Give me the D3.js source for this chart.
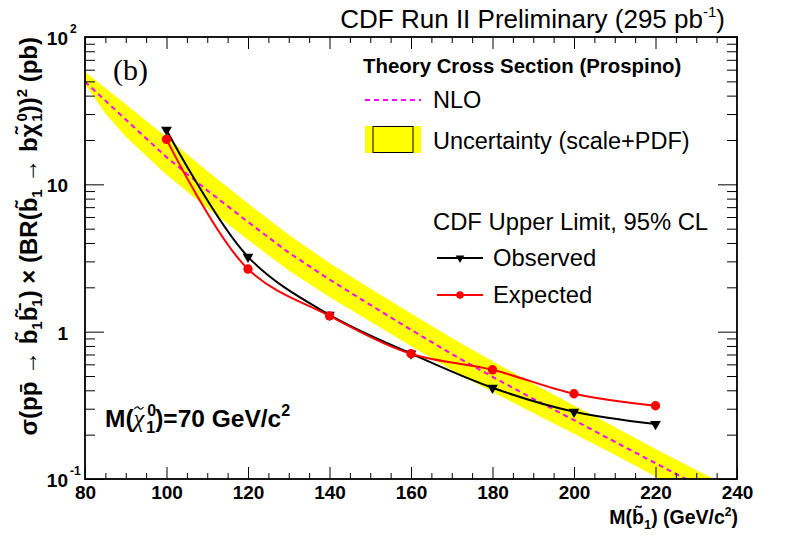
<!DOCTYPE html>
<html><head><meta charset="utf-8">
<script src="https://cdn.jsdelivr.net/npm/d3@7"></script>
<style>
body{margin:0;background:#fff}
svg{display:block}
text{font-family:"Liberation Sans",Arial,Helvetica,sans-serif;fill:#000}
</style>
</head><body><svg id="c" width="787" height="536"></svg>
<script>
// ---- data ----
const massPoints = [100,120,140,160,180,200,220];
const observed   = [23.4,3.22,1.30,0.71,0.416,0.286,0.236];
const expected   = [20.2,2.66,1.28,0.708,0.551,0.379,0.314];
const nloMass  = [80,85,90,100,110,120,130,140,150,160,170,180,190,200,210,220,230,240];
const nloXsec  = [49.7,37.0,27.5,15.3,9.1,5.56,3.44,2.26,1.52,1.03,0.705,0.494,0.350,0.251,0.179,0.128,0.0917,0.066];
const bandHigh = [58,45,35,20.9,12.3,7.4,4.55,2.92,1.96,1.33,0.905,0.63,0.443,0.316,0.225,0.160,0.115,0.083];
const bandLow  = [48,30.3,21.0,11.6,6.9,4.2,2.6,1.72,1.17,0.80,0.55,0.39,0.28,0.203,0.146,0.104,0.075,0.054];
const xTicks = [80,100,120,140,160,180,200,220,240];
const yTicks = [0.1,1,10,100];
const yTickBase = ["10","1","10","10"];
const yTickSup  = ["-1","","","2"];

// ---- layout ----
const svg = d3.select('#c');
const L=85,R=737,T=37,B=479;
const x = d3.scaleLinear().domain([80,240]).range([L,R]);
const y = d3.scaleLog().domain([0.1,100]).range([B,T]);

svg.append('defs').append('clipPath').attr('id','clip')
  .append('rect').attr('x',L).attr('y',T).attr('width',R-L).attr('height',B-T);

const plot = svg.append('g').attr('clip-path','url(#clip)');

// band
const band = nloMass.map((m,i)=>({m,lo:bandLow[i],hi:bandHigh[i]}));
plot.append('path').datum(band)
  .attr('d', d3.area().x(d=>x(d.m)).y0(d=>y(d.lo)).y1(d=>y(d.hi)))
  .attr('fill','#ffff00').attr('stroke','none');

// NLO
plot.append('path').datum(nloMass.map((m,i)=>({m,v:nloXsec[i]})))
  .attr('d', d3.line().x(d=>x(d.m)).y(d=>y(d.v)))
  .attr('fill','none').attr('stroke','#ff00ff').attr('stroke-width',2).attr('stroke-dasharray','5,4');

const obs = massPoints.map((m,i)=>({m,v:observed[i]}));
const exp = massPoints.map((m,i)=>({m,v:expected[i]}));
const curve = d3.line().x(d=>x(d.m)).y(d=>y(d.v)).curve(d3.curveCatmullRom.alpha(0.5));
plot.append('path').datum(obs).attr('d',curve).attr('fill','none').attr('stroke','#000').attr('stroke-width',2);
plot.append('path').datum(exp).attr('d',curve).attr('fill','none').attr('stroke','#ff0000').attr('stroke-width',2);

const tri = d3.symbol(d3.symbolTriangle).size(50);
plot.selectAll('.tri').data(obs).join('path').attr('class','tri')
  .attr('d',tri).attr('transform',d=>`translate(${x(d.m)},${y(d.v)}) rotate(180)`).attr('fill','#000');
plot.selectAll('.circ').data(exp).join('circle').attr('class','circ')
  .attr('cx',d=>x(d.m)).attr('cy',d=>y(d.v)).attr('r',4.7).attr('fill','#ff0000');

// ---- axes ----
const xMinor = d3.range(80,241,5).filter(v=>v%20!==0);
const yMinor = [];
[0.1,1,10].forEach(dec=>{for(let k=2;k<=9;k++) yMinor.push(k*dec);});

function styleAxis(g){ g.select('.domain').remove(); g.selectAll('line').attr('stroke','#000').attr('stroke-width',1); }

const gxb = svg.append('g').attr('transform',`translate(0,${B})`)
  .call(d3.axisBottom(x).tickValues(xTicks).tickSizeInner(-12).tickSizeOuter(0).tickPadding(7).tickFormat(d3.format('d')));
styleAxis(gxb);
gxb.selectAll('text').attr('font-size',19).attr('font-weight','bold').attr('font-family','"Liberation Sans",Arial,sans-serif');
svg.append('g').attr('transform',`translate(0,${B})`)
  .call(d3.axisBottom(x).tickValues(xMinor).tickSizeInner(-6).tickSizeOuter(0).tickFormat('')).call(styleAxis);
svg.append('g').attr('transform',`translate(0,${T})`)
  .call(d3.axisTop(x).tickValues(xTicks).tickSizeInner(-12).tickSizeOuter(0).tickFormat('')).call(styleAxis);
svg.append('g').attr('transform',`translate(0,${T})`)
  .call(d3.axisTop(x).tickValues(xMinor).tickSizeInner(-6).tickSizeOuter(0).tickFormat('')).call(styleAxis);

const gyl = svg.append('g').attr('transform',`translate(${L},0)`)
  .call(d3.axisLeft(y).tickValues(yTicks).tickSizeInner(-19).tickSizeOuter(0).tickPadding(17)
        .tickFormat((d,i)=>yTickBase[i]));
styleAxis(gyl);
gyl.selectAll('text').attr('font-size',19).attr('font-weight','bold').attr('dy','0.4em');
gyl.selectAll('.tick').each(function(d,i){
  if(yTickSup[i]) d3.select(this).append('text').attr('x',-15).attr('y',-5)
     .attr('font-size',12).attr('font-weight','bold').attr('text-anchor','start').text(yTickSup[i]);
});
svg.append('g').attr('transform',`translate(${L},0)`)
  .call(d3.axisLeft(y).tickValues(yMinor).tickSizeInner(-10).tickSizeOuter(0).tickFormat('')).call(styleAxis);
svg.append('g').attr('transform',`translate(${R},0)`)
  .call(d3.axisRight(y).tickValues(yTicks).tickSizeInner(-19).tickSizeOuter(0).tickFormat('')).call(styleAxis);
svg.append('g').attr('transform',`translate(${R},0)`)
  .call(d3.axisRight(y).tickValues(yMinor).tickSizeInner(-10).tickSizeOuter(0).tickFormat('')).call(styleAxis);

// frame
svg.append('rect').attr('x',L).attr('y',T).attr('width',R-L).attr('height',B-T)
  .attr('fill','none').attr('stroke','#000').attr('stroke-width',1.8);

// ---- texts ----
// title
const title = svg.append('text').attr('x',725).attr('y',28).attr('text-anchor','end').attr('font-size',26);
title.append('tspan').text('CDF Run II Preliminary (295 pb');
title.append('tspan').attr('font-size',15).attr('dy',-11).text('-1');
title.append('tspan').attr('dy',11).text(')');

// (b)
svg.append('text').attr('x',113).attr('y',80).attr('font-size',30)
  .style('font-family','"Liberation Serif","Times New Roman",serif').text('(b)');

// legend
svg.append('text').attr('x',363).attr('y',73).attr('font-size',20.4).attr('font-weight','bold')
  .text('Theory Cross Section (Prospino)');
svg.append('line').attr('x1',365).attr('x2',421).attr('y1',100).attr('y2',100)
  .attr('stroke','#ff00ff').attr('stroke-width',2).attr('stroke-dasharray','5,4');
svg.append('text').attr('x',433).attr('y',108).attr('font-size',23.5).text('NLO');
svg.append('rect').attr('x',365).attr('y',126).attr('width',56).attr('height',27).attr('fill','#ffff00');
svg.append('rect').attr('x',373).attr('y',126.5).attr('width',40).attr('height',26).attr('fill','#ffff00')
  .attr('stroke','#000').attr('stroke-width',1);
svg.append('text').attr('x',433).attr('y',149).attr('font-size',23.5).text('Uncertainty (scale+PDF)');
svg.append('text').attr('x',433).attr('y',230).attr('font-size',23.8).text('CDF Upper Limit, 95% CL');
svg.append('line').attr('x1',437).attr('x2',483).attr('y1',258).attr('y2',258).attr('stroke','#000').attr('stroke-width',2);
svg.append('path').attr('d',d3.symbol(d3.symbolTriangle).size(32)).attr('transform','translate(460,258) rotate(180)');
svg.append('text').attr('x',493).attr('y',266).attr('font-size',23.8).text('Observed');
svg.append('line').attr('x1',437).attr('x2',483).attr('y1',295).attr('y2',295).attr('stroke','#ff0000').attr('stroke-width',2);
svg.append('circle').attr('cx',460).attr('cy',295).attr('r',3.8).attr('fill','#ff0000');
svg.append('text').attr('x',493).attr('y',303).attr('font-size',23.8).text('Expected');

// M(chi) label
const ml = svg.append('text').attr('x',105).attr('y',427).attr('font-size',24.5).attr('font-weight','bold');
ml.append('tspan').text('M(');
ml.append('tspan').attr('font-style','italic').attr('font-weight','normal').style('font-family','"Liberation Serif",serif').text('\u03C7');
ml.append('tspan').attr('font-size',16).attr('dx',3).attr('dy',-11).text('0');
ml.append('tspan').attr('font-size',16).attr('dx',-10).attr('dy',17).text('1');
ml.append('tspan').attr('dy',-6).text(')=70 GeV/c');
ml.append('tspan').attr('font-size',16).attr('dy',-11).text('2');
{
  const n = ml.node();
  const s = n.getStartPositionOfChar(2), e = n.getEndPositionOfChar(2);
  const cx = (s.x+e.x)/2, ty = 427-19;
  svg.append('path')
    .attr('d',`M${cx-4.5},${ty+1} Q${cx-2.25},${ty-2.5} ${cx},${ty} T${cx+4.5},${ty-1}`)
    .attr('fill','none').attr('stroke','#000').attr('stroke-width',1.2);
}

// x title
const xt = svg.append('text').attr('x',738).attr('y',524).attr('text-anchor','end').attr('font-size',19.5).attr('font-weight','bold');
xt.append('tspan').text('M(b\u0303');
xt.append('tspan').attr('font-size',13).attr('dy',5).text('1');
xt.append('tspan').attr('dy',-5).text(') (GeV/c');
xt.append('tspan').attr('font-size',12).attr('dy',-8).text('2');
xt.append('tspan').attr('dy',8).text(')');

// y title
const yt = svg.append('text').attr('transform','translate(37,37) rotate(-90)')
  .attr('text-anchor','end').attr('font-size',24).attr('font-weight','bold');
yt.append('tspan').text('\u03C3(pp\u0304 \u2192 b\u0303');
yt.append('tspan').attr('font-size',15).attr('dy',5).text('1');
yt.append('tspan').attr('dy',-5).text('b\u0303\u0304');
yt.append('tspan').attr('font-size',15).attr('dy',5).text('1');
yt.append('tspan').attr('dy',-5).text(') \u00D7 (BR(b\u0303');
yt.append('tspan').attr('font-size',15).attr('dy',5).text('1');
yt.append('tspan').attr('dy',-5).text(' \u2192 b\u03C7\u0303');
yt.append('tspan').attr('font-size',15).attr('dx',2).attr('dy',-10).text('0');
yt.append('tspan').attr('font-size',15).attr('dx',-8.5).attr('dy',15).text('1');
yt.append('tspan').attr('dy',-5).text('))');
yt.append('tspan').attr('font-size',15).attr('dy',-10).text('2');
yt.append('tspan').attr('dy',10).text(' (pb)');
</script>
</body></html>
